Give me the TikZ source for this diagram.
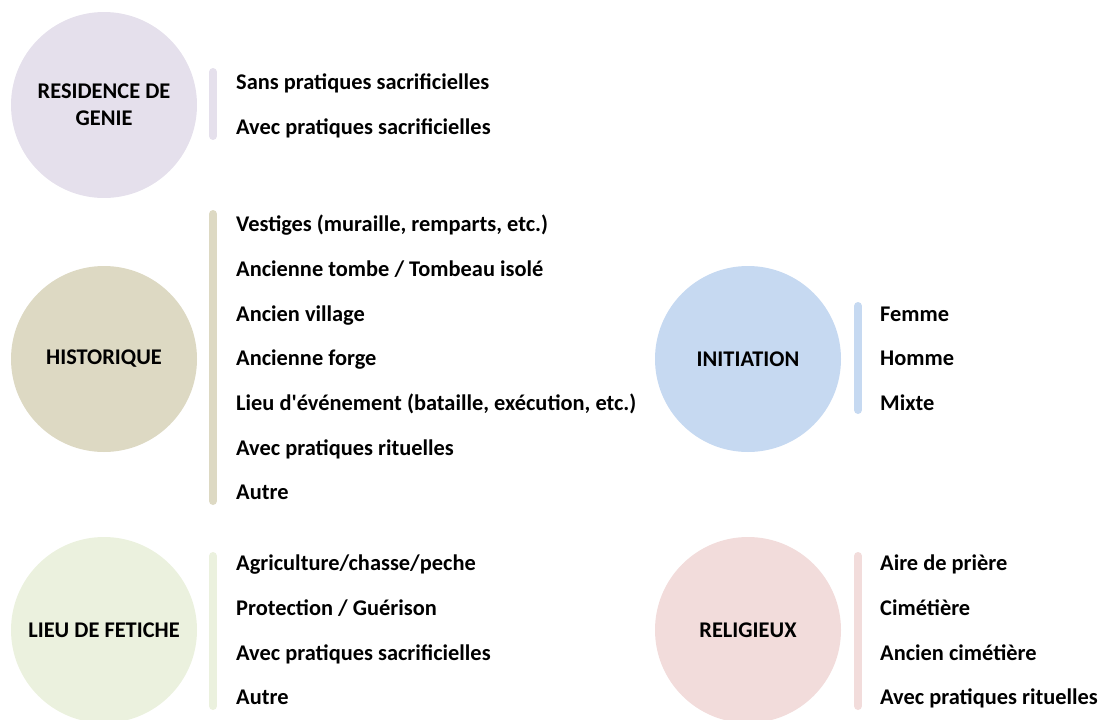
\documentclass[tikz,border=0pt]{standalone}
\usepackage{fontspec}
\setmainfont{Carlito}[Ligatures=TeXOff]
\definecolor{cpurple}{HTML}{E5E0EC}
\definecolor{ctan}{HTML}{DDD9C3}
\definecolor{cblue}{HTML}{C6D9F1}
\definecolor{cgreen}{HTML}{EBF1DE}
\definecolor{cred}{HTML}{F2DCDB}
\begin{document}
\begin{tikzpicture}[x=1pt,y=-1pt,
  cat/.style={circle,minimum size=186pt,inner sep=0pt,align=center,
    font=\bfseries\fontsize{22.4}{27}\selectfont},
  item/.style={anchor=base west,inner sep=0pt,font=\bfseries\fontsize{22.4}{26}\selectfont},
  bar/.style={line width=8pt,line cap=round}]
\useasboundingbox (0,0) rectangle (1101,720);
% circles
\node[cat,fill=cpurple] (res) at (104,105) {RESIDENCE DE\\GENIE};
\node[cat,fill=ctan] (his) at (104,359) {HISTORIQUE};
\node[cat,fill=cgreen] (fet) at (104,630) {LIEU DE FETICHE};
\node[cat,fill=cblue] (ini) at (748,359) {INITIATION};
\node[cat,fill=cred] (rel) at (748,630) {RELIGIEUX};
% bars
\draw[bar,cpurple] (213,72) -- (213,136);
\draw[bar,ctan] (213,214) -- (213,501);
\draw[bar,cgreen] (213,556) -- (213,706);
\draw[bar,cblue] (858,306) -- (858,410);
\draw[bar,cred] (858,556) -- (858,706);
% items
\node[item] (r1) at (236,89) {Sans pratiques sacrificielles};
\node[item] (r2) at (236,134) {Avec pratiques sacrificielles};
\node[item] (h1) at (236,231) {Vestiges (muraille, remparts, etc.)};
\node[item] (h2) at (236,276) {Ancienne tombe / Tombeau isolé};
\node[item] (h3) at (236,321) {Ancien village};
\node[item] (h4) at (236,365) {Ancienne forge};
\node[item] (h5) at (236,410) {Lieu d'événement (bataille, exécution, etc.)};
\node[item] (h6) at (236,455) {Avec pratiques rituelles};
\node[item] (h7) at (236,499) {Autre};
\node[item] (f1) at (236,570) {Agriculture/chasse/peche};
\node[item] (f2) at (236,615) {Protection / Guérison};
\node[item] (f3) at (236,660) {Avec pratiques sacrificielles};
\node[item] (f4) at (236,704) {Autre};
\node[item] (i1) at (880,321) {Femme};
\node[item] (i2) at (880,365) {Homme};
\node[item] (i3) at (880,410) {Mixte};
\node[item] (g1) at (880,570) {Aire de prière};
\node[item] (g2) at (880,615) {Cimétière};
\node[item] (g3) at (880,660) {Ancien cimétière};
\node[item] (g4) at (880,704) {Avec pratiques rituelles};
\end{tikzpicture}
\end{document}
